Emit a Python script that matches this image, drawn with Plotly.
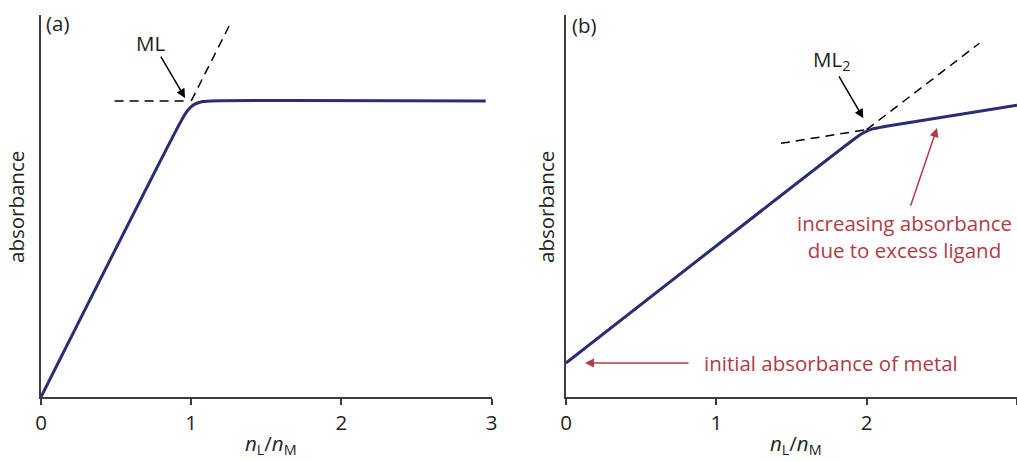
import plotly.graph_objects as go

# ---------------- data ----------------
# panel (a): ML complex
a_x = [0.0, 0.94, 0.98, 1.02, 1.07, 1.13, 2.96]
a_y = [0.0, 0.728, 0.752, 0.766, 0.773, 0.775, 0.775]
a_dash_h_x = [0.49, 0.99]
a_dash_h_y = [0.775, 0.775]
a_dash_s_x = [1.0, 1.27]
a_dash_s_y = [0.775, 0.985]

# panel (b): ML2 complex
b_x = [0.0, 1.92, 1.98, 2.04, 2.12, 3.0]
b_y = [0.089, 0.676, 0.692, 0.702, 0.708, 0.764]
b_dash_lo_x = [1.43, 2.0]
b_dash_lo_y = [0.664, 0.70]
b_dash_up_x = [2.0, 2.75]
b_dash_up_y = [0.70, 0.926]

tick_vals = [0, 1, 2, 3]
tick_text = ["0", "1", "2", "3"]

# ---------------- styles ----------------
W, H = 1017, 462
FONT = "Open Sans"
FS = 20.5
NAVY = "#2b2d72"
RED = "#b23a46"
AXC = "#3c3c3c"
TXT = "#231f20"
dash = "9px,6px"

fig = go.Figure()
fig.add_trace(go.Scatter(x=a_x, y=a_y, mode="lines", line=dict(color=NAVY, width=3, shape="spline", smoothing=0.6),
                         xaxis="x", yaxis="y", showlegend=False))
fig.add_trace(go.Scatter(x=a_dash_h_x, y=a_dash_h_y, mode="lines", line=dict(color="black", width=1.5, dash=dash),
                         xaxis="x", yaxis="y", showlegend=False))
fig.add_trace(go.Scatter(x=a_dash_s_x, y=a_dash_s_y, mode="lines", line=dict(color="black", width=1.5, dash=dash),
                         xaxis="x", yaxis="y", showlegend=False))
fig.add_trace(go.Scatter(x=b_x, y=b_y, mode="lines", line=dict(color=NAVY, width=3, shape="spline", smoothing=0.6),
                         xaxis="x2", yaxis="y2", showlegend=False))
fig.add_trace(go.Scatter(x=b_dash_lo_x, y=b_dash_lo_y, mode="lines", line=dict(color="black", width=1.5, dash=dash),
                         xaxis="x2", yaxis="y2", showlegend=False))
fig.add_trace(go.Scatter(x=b_dash_up_x, y=b_dash_up_y, mode="lines", line=dict(color="black", width=1.5, dash=dash),
                         xaxis="x2", yaxis="y2", showlegend=False))

y_dom = [1 - 397 / H, 1 - 15 / H]
xa = dict(showline=True, linecolor=AXC, linewidth=2, ticks="outside", ticklen=6, tickwidth=2, tickcolor=AXC,
          tickvals=tick_vals, ticktext=tick_text, tickfont=dict(family=FONT, size=FS, color=TXT),
          showgrid=False, zeroline=False, range=[0, 3], fixedrange=True, automargin=False)
ya = dict(showline=True, linecolor=AXC, linewidth=2, ticks="", showticklabels=False, showgrid=False,
          zeroline=False, range=[0, 1], domain=y_dom, automargin=False)

fig.update_layout(
    width=W, height=H, margin=dict(l=0, r=0, t=0, b=0, autoexpand=False),
    paper_bgcolor="white", plot_bgcolor="white",
    font=dict(family=FONT, size=FS, color=TXT),
    xaxis=dict(xa, domain=[41 / W, 491.7 / W], anchor="y"),
    yaxis=dict(ya, anchor="x"),
    xaxis2=dict(xa, domain=[566 / W, 1.0], anchor="y2"),
    yaxis2=dict(ya, anchor="x2"),
)

C = dict(xanchor="center", yanchor="middle", showarrow=False)
ann = []
# axis titles and panel labels
xt = "<i>n</i><sub>L</sub>/<i>n</i><sub>M</sub>"
ann.append(dict(C, text=xt, xref="paper", yref="paper", x=271 / W, y=1 - 444 / H))
ann.append(dict(C, text=xt, xref="paper", yref="paper", x=796 / W, y=1 - 444 / H))
ann.append(dict(C, text="absorbance", xref="paper", yref="paper", x=16 / W, y=1 - 207 / H, textangle=-90))
ann.append(dict(C, text="absorbance", xref="paper", yref="paper", x=546 / W, y=1 - 207 / H, textangle=-90))
ann.append(dict(C, text="(a)", xref="paper", yref="paper", x=57 / W, y=1 - 23 / H))
ann.append(dict(C, text="(b)", xref="paper", yref="paper", x=584 / W, y=1 - 25 / H))

# panel a: ML
ann.append(dict(C, text="ML", xref="x", yref="y", x=0.726, y=0.927))
ann.append(dict(text="", xref="x", yref="y", x=0.959, y=0.783, axref="x", ayref="y", ax=0.792, ay=0.895,
                showarrow=True, arrowhead=2, arrowsize=1.2, arrowwidth=1.5, arrowcolor="black", standoff=0))
# panel b: ML2
ann.append(dict(C, text="ML<sub>2</sub>", xref="x2", yref="y2", x=1.763, y=0.882))
ann.append(dict(text="", xref="x2", yref="y2", x=1.978, y=0.730, axref="x2", ayref="y2", ax=1.81, ay=0.843,
                showarrow=True, arrowhead=2, arrowsize=1.2, arrowwidth=1.5, arrowcolor="black", standoff=0))
# red annotations
ann.append(dict(C, text="increasing absorbance<br>due to excess ligand", xref="x2", yref="y2", x=2.25, y=0.419,
                font=dict(color=RED)))
ann.append(dict(text="", xref="x2", yref="y2", x=2.468, y=0.704, axref="x2", ayref="y2", ax=2.289, ay=0.497,
                showarrow=True, arrowhead=2, arrowsize=1.2, arrowwidth=1.5, arrowcolor=RED, standoff=0))
ann.append(dict(C, text="initial absorbance of metal", xref="x2", yref="y2", x=0.905, y=0.089, xanchor="left",
                font=dict(color=RED)))
ann.append(dict(text="", xref="x2", yref="y2", x=0.126, y=0.089, axref="x2", ayref="y2", ax=0.825, ay=0.089,
                showarrow=True, arrowhead=2, arrowsize=1.2, arrowwidth=1.5, arrowcolor=RED, standoff=0))
fig.update_layout(annotations=ann)

fig.write_html("out.html", config={"displayModeBar": False})
